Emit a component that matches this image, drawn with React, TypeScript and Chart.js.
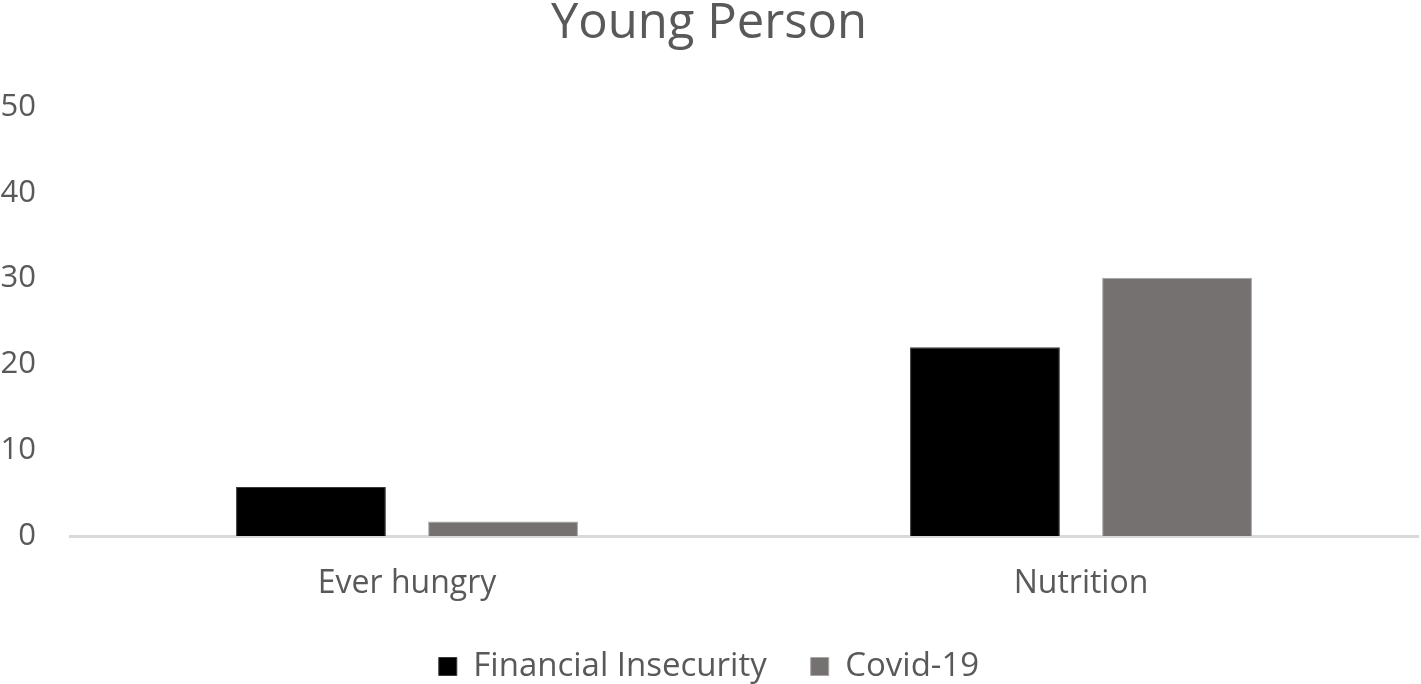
import React, { useEffect, useRef } from "react";
import { Chart, registerables } from "chart.js";

Chart.register(...registerables);

const categories = ["Ever hungry", "Nutrition"];
const financialInsecurity = [5.7, 22];
const covid19 = [1.7, 30.1];
const yTicks = [0, 10, 20, 30, 40, 50];

const FONT = "'Open Sans', sans-serif";
const TEXT = "#595959";

export default function App() {
  const ref = useRef<HTMLCanvasElement>(null);
  useEffect(() => {
    if (!ref.current) return;
    const chart = new Chart(ref.current, {
      type: "bar",
      data: {
        labels: categories,
        datasets: [
          {
            label: "Financial Insecurity",
            data: financialInsecurity,
            backgroundColor: "#000000",
            borderColor: "#3a3a3a",
            borderWidth: 1,
            categoryPercentage: 0.57,
            barPercentage: 0.78,
          },
          {
            label: "Covid-19",
            data: covid19,
            backgroundColor: "#757170",
            borderColor: "#a8a6a5",
            borderWidth: 1,
            categoryPercentage: 0.57,
            barPercentage: 0.78,
          },
        ],
      },
      options: {
        responsive: false,
        animation: false,
        layout: { padding: { left: 0, right: 3, top: 0, bottom: -9 } },
        plugins: {
          title: {
            display: true,
            text: "Young Person",
            color: TEXT,
            font: { family: FONT, size: 49, weight: "normal", lineHeight: 1.0 },
            padding: { top: 0, bottom: 58 },
          },
          legend: {
            position: "bottom",
            labels: {
              color: TEXT,
              font: { family: FONT, size: 33 },
              boxWidth: 18,
              boxHeight: 18,
              padding: 44,
            },
          },
          tooltip: { enabled: false },
        },
        scales: {
          x: {
            grid: { display: false, drawTicks: false },
            border: { display: true, color: "#d9d9d9", width: 3 },
            ticks: {
              color: TEXT,
              font: { family: FONT, size: 32 },
              padding: 29,
            },
            afterFit: (axis: any) => {
              axis.height = 70;
            },
          },
          y: {
            min: 0,
            max: 50,
            afterBuildTicks: (axis: any) => {
              axis.ticks = yTicks.map((v) => ({ value: v }));
            },
            afterFit: (axis: any) => {
              axis.width = 70;
            },
            grid: { display: false, drawTicks: false },
            border: { display: false },
            ticks: {
              color: TEXT,
              font: { family: FONT, size: 31 },
              padding: 34,
            },
          },
        },
      },
    });
    return () => chart.destroy();
  }, []);
  return (
    <div style={{ position: "fixed", left: 0, top: 0, width: 1421, height: 684, background: "#fff" }}>
      <canvas ref={ref} width={1421} height={684} style={{ width: 1421, height: 684 }} />
    </div>
  );
}
